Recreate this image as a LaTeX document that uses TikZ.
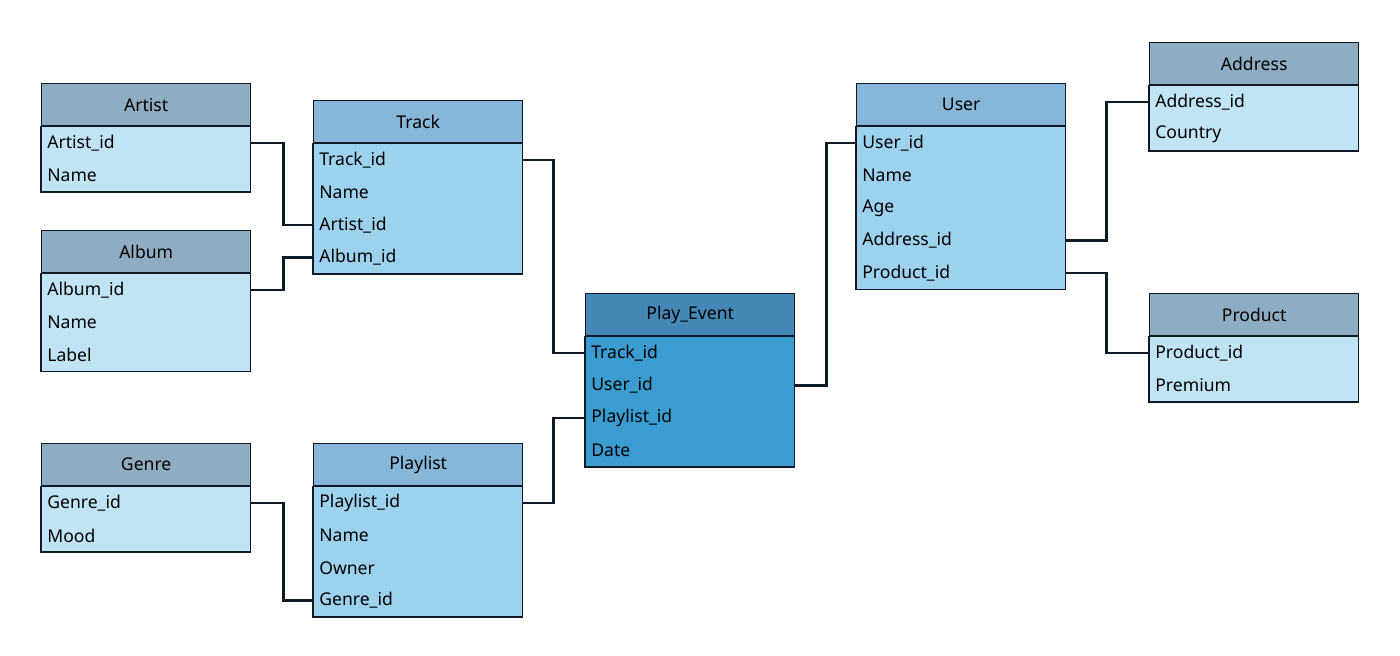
\documentclass[tikz,border=0pt]{standalone}
\usepackage{fontspec}
\setmainfont{Noto Sans}
\usetikzlibrary{positioning, calc}
\definecolor{headgrey}{HTML}{8FADC2}
\definecolor{headblue}{HTML}{86B6D8}
\definecolor{headdark}{HTML}{4489B6}
\definecolor{bodylight}{HTML}{C1E4F5}
\definecolor{bodymid}{HTML}{9DD2EF}
\definecolor{bodydark}{HTML}{3A9CD0}
\definecolor{linkdark}{HTML}{0E1B26}
\tikzset{
    head/.style={rectangle, draw=linkdark, line width=0.8pt, minimum width=4.18cm, minimum height=0.84cm, inner sep=0pt, font=\fontsize{10}{12}\selectfont},
    field/.style={rectangle, minimum width=4.18cm, minimum height=0.65cm, inner sep=0pt, text width=3.94cm, align=left, font=\fontsize{10}{12}\selectfont},
    outline/.style={draw=linkdark, line width=0.8pt},
    link/.style={draw=linkdark, line width=1.7pt}
}
% \entity{name}{title}{top left}{header colour}{body colour}{fields}
\newcommand{\entity}[6]{%
  \node[head, fill=#4, anchor=north west] (#1) at (#3) {#2};
  \foreach \f [count=\i] in {#6} {
    \node[field, fill=#5, anchor=north west] (#1-\i) at ($(#1.south west)+(0,{(\i-1)*32.5})$) {\f};
    \xdef\lastrow{\i}
  }
  \draw[outline] (#1.south west) rectangle (#1-\lastrow.south east);
}

\begin{document}
\begin{tikzpicture}[x=0.02cm, y=-0.02cm]
\useasboundingbox (0,0) rectangle (1400,656);

% Tables
\entity{artist}{Artist}{41,83}{headgrey}{bodylight}{Artist\_id, Name}
\entity{album}{Album}{41,230}{headgrey}{bodylight}{Album\_id, Name, Label}
\entity{genre}{Genre}{41,443}{headgrey}{bodylight}{Genre\_id, Mood}
\entity{track}{Track}{313,100}{headblue}{bodymid}{Track\_id, Name, Artist\_id, Album\_id}
\entity{playlist}{Playlist}{313,443}{headblue}{bodymid}{Playlist\_id, Name, Owner, Genre\_id}
\entity{event}{Play\_Event}{585,293}{headdark}{bodydark}{Track\_id, User\_id, Playlist\_id, Date}
\entity{user}{User}{856,83}{headblue}{bodymid}{User\_id, Name, Age, Address\_id, Product\_id}
\entity{address}{Address}{1149,42}{headgrey}{bodylight}{Address\_id, Country}
\entity{product}{Product}{1149,293}{headgrey}{bodylight}{Product\_id, Premium}

% Keys
\draw[link] (artist-1.east) -- ++(33,0) |- (track-3.west);
\draw[link] (album-1.east) -- ++(33,0) |- (track-4.west);
\draw[link] (genre-1.east) -- ++(33,0) |- (playlist-4.west);
\draw[link] (track-1.east) -- ++(31,0) |- (event-1.west);
\draw[link] (playlist-1.east) -- ++(31,0) |- (event-3.west);
\draw[link] (event-2.east) -- ++(32,0) |- (user-1.west);
\draw[link] (user-4.east) -- ++(41,0) |- (address-1.west);
\draw[link] (user-5.east) -- ++(41,0) |- (product-1.west);

\end{tikzpicture}
\end{document}
